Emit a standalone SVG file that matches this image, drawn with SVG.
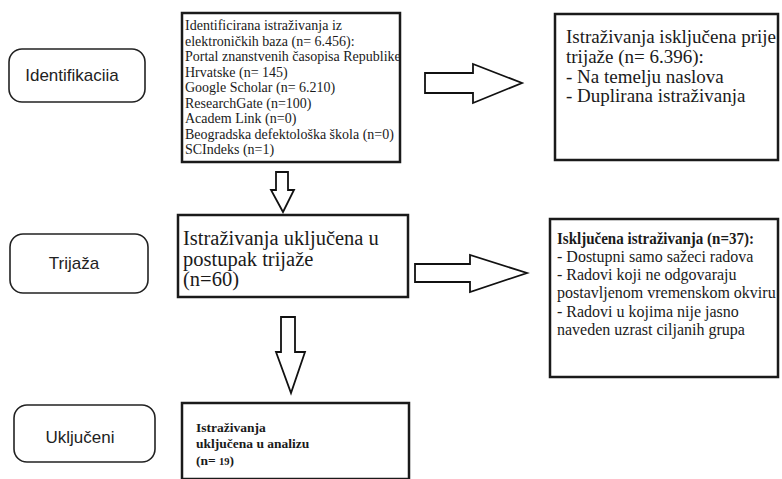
<svg xmlns="http://www.w3.org/2000/svg" width="782" height="479" viewBox="0 0 782 479">
<style>
.box{fill:#fff;stroke:#1a1a1a;stroke-width:2.5}
.stage{fill:#fff;stroke:#222;stroke-width:1.6}
.arrow{fill:#fff;stroke:#111;stroke-width:1.8;stroke-linejoin:miter}
.lbl{font-family:"Liberation Sans",Arial,sans-serif;font-size:17px;fill:#222;text-anchor:middle}
.t{font-family:"Liberation Serif","Times New Roman",serif;fill:#1a1a1a}
</style>
<rect width="782" height="479" fill="#fff"/>
<g id="stage-identifikacija">
<rect class="stage" x="9" y="49" width="136" height="53" rx="13"/>
<text class="lbl" x="72" y="81">Identifikaciia</text>
</g>
<g id="stage-trijaza">
<rect class="stage" x="10" y="234" width="138" height="59" rx="13"/>
<text class="lbl" x="74" y="269">Trijaža</text>
</g>
<g id="stage-ukljuceni">
<rect class="stage" x="14" y="405" width="141" height="57" rx="13"/>
<text class="lbl" x="80" y="443">Uključeni</text>
</g>
<g id="box-identified">
<rect class="box" x="182" y="13" width="218" height="149"/>
<text class="t" font-size="14">
<tspan x="185" y="30">Identificirana istraživanja iz</tspan>
<tspan x="185" y="45.5">elektroničkih baza (n= 6.456):</tspan>
<tspan x="185" y="61">Portal znanstvenih časopisa Republike</tspan>
<tspan x="185" y="76.5">Hrvatske (n= 145)</tspan>
<tspan x="185" y="92">Google Scholar (n= 6.210)</tspan>
<tspan x="185" y="107.5">ResearchGate (n=100)</tspan>
<tspan x="185" y="123">Academ Link (n=0)</tspan>
<tspan x="185" y="138.5">Beogradska defektološka škola (n=0)</tspan>
<tspan x="185" y="154">SCIndeks (n=1)</tspan>
</text>
</g>
<g id="box-excluded-before">
<rect class="box" x="555" y="14" width="223" height="146"/>
<text class="t" font-size="19">
<tspan x="566" y="43">Istraživanja isključena prije</tspan>
<tspan x="566" y="63">trijaže (n= 6.396):</tspan>
<tspan x="566" y="82.5">- Na temelju naslova</tspan>
<tspan x="566" y="102">- Duplirana istraživanja</tspan>
</text>
</g>
<g id="box-screening">
<rect class="box" x="178" y="215" width="230" height="82"/>
<text class="t" font-size="20.5">
<tspan x="183" y="245">Istraživanja uključena u</tspan>
<tspan x="183" y="266">postupak trijaže</tspan>
<tspan x="183" y="286">(n=60)</tspan>
</text>
</g>
<g id="box-excluded-screening">
<rect class="box" x="550" y="219" width="228" height="158"/>
<text class="t" font-size="16">
<tspan x="557" y="244" font-weight="bold" textLength="197" lengthAdjust="spacingAndGlyphs">Isključena istraživanja (n=37):</tspan>
<tspan x="557" y="262">- Dostupni samo sažeci radova</tspan>
<tspan x="557" y="280">- Radovi koji ne odgovaraju</tspan>
<tspan x="557" y="298">postavljenom vremenskom okviru</tspan>
<tspan x="557" y="316.5">- Radovi u kojima nije jasno</tspan>
<tspan x="557" y="334.5">naveden uzrast ciljanih grupa</tspan>
</text>
</g>
<g id="box-included">
<rect class="box" x="182" y="403" width="227" height="76"/>
<text class="t" font-size="13.5" font-weight="bold" fill="#333">
<tspan x="196" y="432">Istraživanja</tspan>
<tspan x="196" y="448">uključena u analizu</tspan>
<tspan x="196" y="465">(n= <tspan font-size="10.5">19</tspan>)</tspan>
</text>
</g>
<g id="connectors">
<path class="arrow" d="M425,73 H473 V64 L522,83 L473,103 V93 H425 Z"/>
<path class="arrow" d="M415,264 H470 V255 L527,273 L470,292 V282 H415 Z"/>
<path class="arrow" d="M276,172 H288 V190 H294 L283,212 L271,190 H276 Z"/>
<path class="arrow" d="M281,317 H295 V352 H305 L291,393 L276,352 H281 Z"/>
</g>
</svg>
